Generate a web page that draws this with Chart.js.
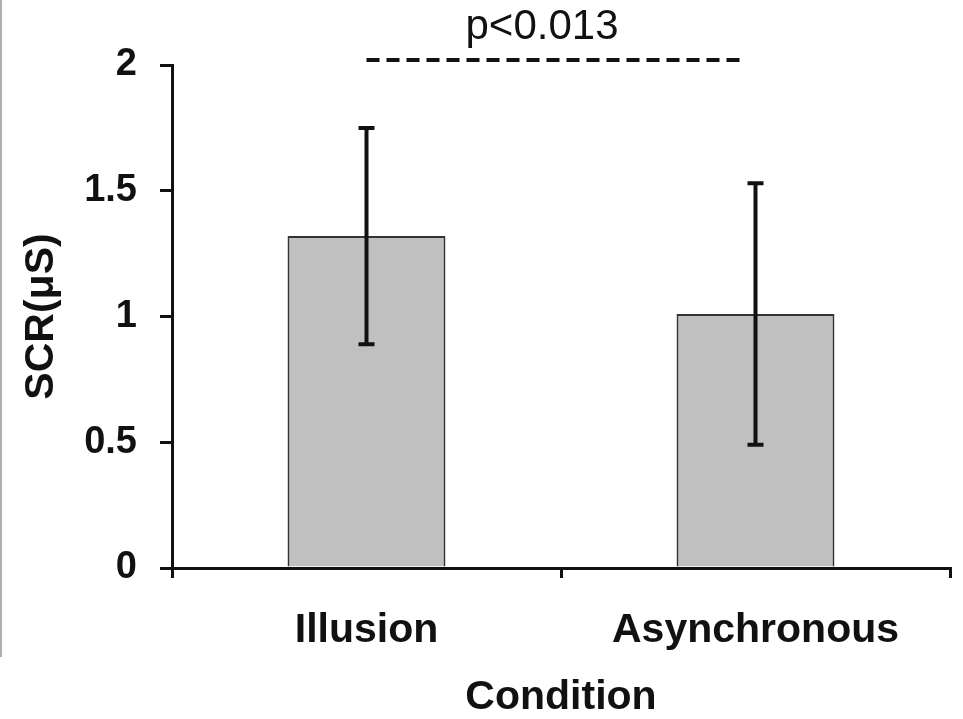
<!DOCTYPE html>
<html>
<head>
<meta charset="utf-8">
<script src="https://cdn.jsdelivr.net/npm/chart.js@4/dist/chart.umd.min.js"></script>
<style>
  html, body { margin: 0; padding: 0; background: #fff; }
  #wrap { position: relative; width: 963px; height: 719px; }
  #edge { position: absolute; left: 0; top: 0; width: 0; height: 657px; border-left: 2px solid #b0b0b0; }
</style>
</head>
<body>
<div id="wrap">
  <canvas id="myChart"></canvas>
  <div id="edge"></div>
</div>
<script>
var categories = ['Illusion', 'Asynchronous'];
var means = [1.32, 1.01];
var errors = [0.43, 0.52];
var yTicks = [0, 0.5, 1, 1.5, 2];
var sigFrom = 0, sigTo = 1, sigLevel = 2.02, sigLabel = 'p<0.013';

var fontFamily = '"Liberation Sans", Arial, sans-serif';

var errorBars = {
    id: 'errorBars',
    afterDatasetsDraw: function (chart) {
        var ctx = chart.ctx;
        var meta = chart.getDatasetMeta(0);
        var y = chart.scales.y;
        ctx.save();
        ctx.strokeStyle = '#111';
        ctx.lineWidth = 4;
        meta.data.forEach(function (bar, i) {
            var top = y.getPixelForValue(means[i] + errors[i]);
            var bot = y.getPixelForValue(means[i] - errors[i]);
            ctx.beginPath();
            ctx.moveTo(bar.x, top);
            ctx.lineTo(bar.x, bot);
            ctx.moveTo(bar.x - 8, top);
            ctx.lineTo(bar.x + 8, top);
            ctx.moveTo(bar.x - 8, bot);
            ctx.lineTo(bar.x + 8, bot);
            ctx.stroke();
        });
        ctx.restore();
    },
    afterDraw: function (chart) {
        var ctx = chart.ctx;
        var x = chart.scales.x, y = chart.scales.y;
        var x0 = x.getPixelForValue(sigFrom);
        var x1 = x.getPixelForValue(sigTo) - 10;
        var yy = y.getPixelForValue(sigLevel);
        ctx.save();
        ctx.strokeStyle = '#111';
        ctx.lineWidth = 4;
        ctx.setLineDash([13, 7]);
        ctx.beginPath();
        ctx.moveTo(x0, yy);
        ctx.lineTo(x1, yy);
        ctx.stroke();
        ctx.setLineDash([]);
        ctx.fillStyle = '#111';
        ctx.font = '42px ' + fontFamily;
        ctx.textAlign = 'center';
        ctx.textBaseline = 'alphabetic';
        ctx.fillText(sigLabel, (x0 + x1) / 2 - 14, yy - 21);
        ctx.restore();
    }
};

var data = {
    labels: categories,
    datasets: [{
        data: means,
        backgroundColor: '#c0c0c0',
        borderColor: '#333',
        borderWidth: 2,
        barPercentage: 0.406,
        categoryPercentage: 1
    }]
};

var config = {
    type: 'bar',
    data: data,
    plugins: [errorBars],
    options: {
        responsive: true,
        maintainAspectRatio: false,
        animation: false,
        layout: { padding: { top: 65, right: 13, left: 0, bottom: 0 } },
        plugins: {
            legend: { display: false },
            tooltip: { enabled: false }
        },
        scales: {
            x: {
                afterFit: function (s) { s.height = 151; },
                border: { display: true, color: '#111', width: 3 },
                grid: { offset: true, drawOnChartArea: false, drawTicks: true, tickLength: 10, color: '#111', lineWidth: 3 },
                ticks: { color: '#111', padding: 28, font: { family: fontFamily, size: 41, weight: 'bold' } },
                title: { display: true, text: 'Condition', color: '#111', padding: 1, font: { family: fontFamily, size: 41, weight: 'bold', lineHeight: 1 } }
            },
            y: {
                min: 0,
                max: 2,
                afterFit: function (s) { s.width = 172; },
                afterBuildTicks: function (s) { s.ticks = yTicks.map(function (v) { return { value: v }; }); },
                border: { display: true, color: '#111', width: 3 },
                grid: { drawOnChartArea: false, drawTicks: true, tickLength: 12, color: '#111', lineWidth: 3 },
                ticks: {
                    color: '#111',
                    padding: 23,
                    font: { family: fontFamily, size: 38, weight: 'bold' },
                    callback: function (v) { return String(v); }
                },
                title: { display: true, text: 'SCR(μS)', color: '#111', padding: 21, font: { family: fontFamily, size: 41, weight: 'bold', lineHeight: 1 } }
            }
        }
    }
};

var myChart = new Chart(
    document.getElementById('myChart').getContext('2d'),
    config
);
</script>
</body>
</html>
